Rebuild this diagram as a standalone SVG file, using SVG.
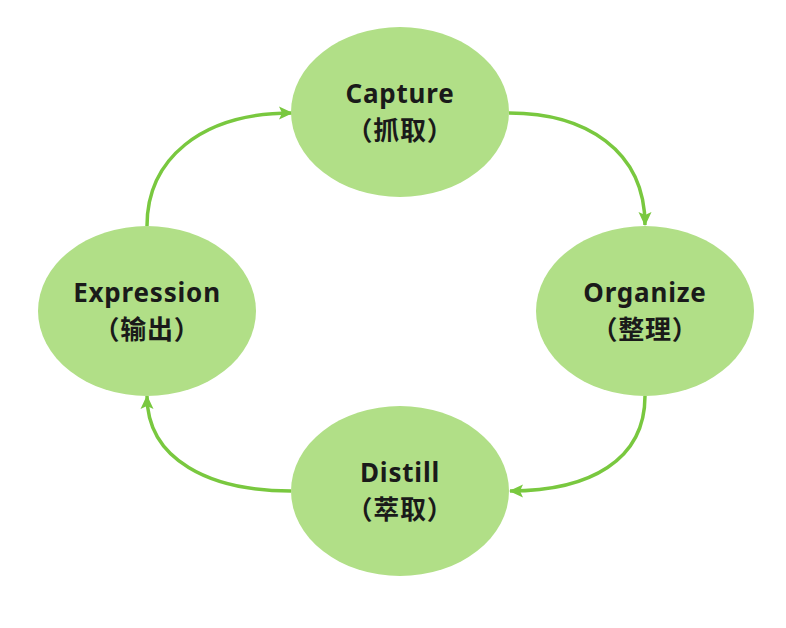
<svg xmlns="http://www.w3.org/2000/svg" width="786" height="628" viewBox="0 0 786 628">
<style>
.node{fill:#b1df87;}
.lbl{font-family:"Noto Sans","Noto Sans CJK SC",sans-serif;font-weight:bold;font-size:26px;letter-spacing:0.8px;fill:#1a1a1a;text-anchor:middle;}
.edge{fill:none;stroke:#79c83f;stroke-width:3.5;marker-end:url(#ah);}
</style>
<defs>
<marker id="ah" markerUnits="userSpaceOnUse" markerWidth="16" markerHeight="16" viewBox="0 0 16 16" refX="14" refY="8" orient="auto">
<path d="M1,1.5 L15,8 L1,14.5 L4,8 Z" fill="#79c83f"/>
</marker>
</defs>
<rect width="786" height="628" fill="#ffffff"/>
<g id="connectors">
<path class="edge" d="M509,113 C585,113 645,150 645,225"/>
<path class="edge" d="M645,396 C645,460 590,491 510,491"/>
<path class="edge" d="M291,491 C210,491 147,460 147,396"/>
<path class="edge" d="M147,226 C147,160 200,113 292,113"/>
</g>
<g id="capture">
<ellipse class="node" cx="400" cy="112" rx="109" ry="85"/>
<text class="lbl" x="400" y="103">Capture</text>
<text class="lbl" x="400" y="140">（抓取）</text>
</g>
<g id="organize">
<ellipse class="node" cx="645" cy="311" rx="109" ry="85"/>
<text class="lbl" x="645" y="302">Organize</text>
<text class="lbl" x="645" y="339">（整理）</text>
</g>
<g id="distill">
<ellipse class="node" cx="400" cy="491" rx="109" ry="85"/>
<text class="lbl" x="400" y="482">Distill</text>
<text class="lbl" x="400" y="519">（萃取）</text>
</g>
<g id="expression">
<ellipse class="node" cx="147" cy="311" rx="109" ry="85"/>
<text class="lbl" x="147" y="302">Expression</text>
<text class="lbl" x="147" y="339">（输出）</text>
</g>
</svg>
